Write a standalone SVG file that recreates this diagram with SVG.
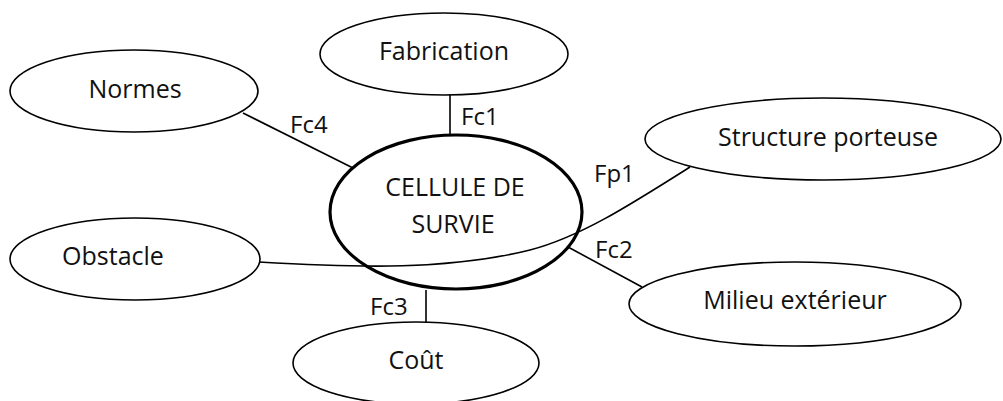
<svg xmlns="http://www.w3.org/2000/svg" width="1003" height="401" viewBox="0 0 1003 401">
<style>
.n{fill:#fff;stroke:#000;stroke-width:1.6}
.c{fill:#fff;stroke:#000;stroke-width:3.2}
.t{font-family:"Open Sans","Noto Sans",sans-serif;font-size:25px;fill:#111;text-anchor:middle}
.l{font-family:"Open Sans","Noto Sans",sans-serif;font-size:24px;fill:#111}
.e{fill:none;stroke:#000;stroke-width:1.6}
</style>
<rect width="1003" height="401" fill="#fff"/>
<g id="normes"><ellipse class="n" cx="134" cy="91" rx="124" ry="41"/><text class="t" x="135" y="98">Normes</text></g>
<g id="fabrication"><ellipse class="n" cx="444" cy="54" rx="124" ry="41"/><text class="t" x="444" y="60">Fabrication</text></g>
<g id="structure"><ellipse class="n" cx="823" cy="139" rx="178" ry="41"/><text class="t" x="828" y="146">Structure porteuse</text></g>
<g id="obstacle"><ellipse class="n" cx="135" cy="259" rx="125" ry="41"/><text class="t" x="113" y="265">Obstacle</text></g>
<g id="milieu"><ellipse class="n" cx="795" cy="304" rx="166" ry="42"/><text class="t" x="795" y="309">Milieu extérieur</text></g>
<g id="cout"><ellipse class="n" cx="416" cy="363" rx="123" ry="41"/><text class="t" x="416" y="369">Coût</text></g>
<g id="cellule"><ellipse class="c" cx="456" cy="212" rx="126" ry="77"/><text class="t" x="455" y="196">CELLULE DE</text><text class="t" x="453" y="233">SURVIE</text></g>
<g id="connectors">
<line class="e" x1="243" y1="113" x2="353" y2="168"/>
<line class="e" x1="450" y1="95" x2="450" y2="136"/>
<line class="e" x1="426" y1="290" x2="426" y2="322"/>
<line class="e" x1="568" y1="247" x2="642" y2="287"/>
<path class="e" d="M259,262 C360,268 450,270 530,250 C580,237 630,205 690,167"/>
<text class="l" x="290" y="133">Fc4</text>
<text class="l" x="461" y="125">Fc1</text>
<text class="l" x="594" y="182">Fp1</text>
<text class="l" x="595" y="258">Fc2</text>
<text class="l" x="370" y="315">Fc3</text>
</g>
</svg>
